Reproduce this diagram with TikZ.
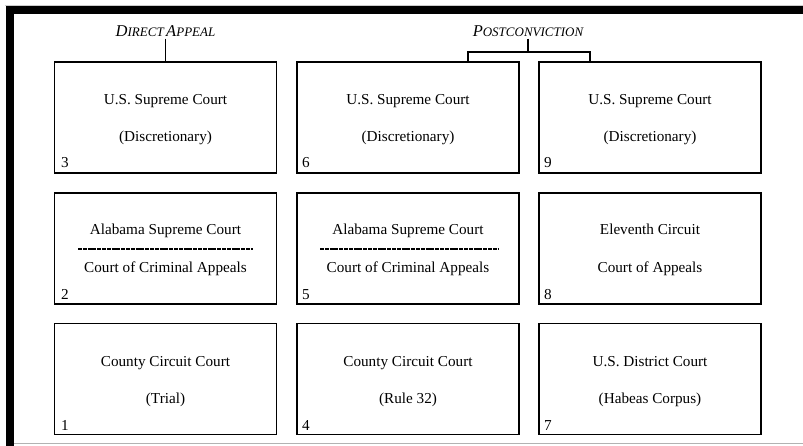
\documentclass[tikz,border=0pt]{standalone}
\usepackage{fontspec}
\setmainfont{Liberation Serif}
\newcommand\mysc[2]{{\fontsize{16.5}{18}\selectfont #1}{\fontsize{13}{18}\selectfont #2}}
\begin{document}
\begin{tikzpicture}[x=1pt,y=-1pt,
  court/.style={draw, line width=1.4pt, minimum width=222pt, minimum height=111pt, inner sep=0pt},
  lbl/.style={font=\fontsize{15.2}{18}\selectfont, inner sep=0pt, anchor=base},
  num/.style={font=\fontsize{15.2}{18}\selectfont, inner sep=0pt, anchor=base west},
  head/.style={font=\itshape, inner sep=1.5pt},
  ln/.style={line width=1.4pt},
  sep/.style={line width=1.1pt, dash pattern=on 4pt off 0.8pt}]
\useasboundingbox (0,0) rectangle (803,446);
% frame
\draw[gray!40, line width=0.6pt] (5,5) -- (803,5);
\fill[black] (6,6) rectangle (803,14);
\fill[black] (6,6) rectangle (14,446);
\draw[gray!60, line width=0.8pt] (14,443.5) -- (803,443.5);
% boxes
\node[court] (b3) at (165.5,117.5) {};
\node[court] (b6) at (408,117.5) {};
\node[court] (b9) at (650,117.5) {};
\node[court] (b2) at (165.5,248.5) {};
\node[court] (b5) at (408,248.5) {};
\node[court] (b8) at (650,248.5) {};
\node[court] (b1) at (165.5,379) {};
\node[court] (b4) at (408,379) {};
\node[court] (b7) at (650,379) {};
% row 1 texts
\node[lbl] (t3a) at (165.5,105) {U.S. Supreme Court};
\node[lbl] (t3b) at (165.5,142) {(Discretionary)};
\node[lbl] (t6a) at (408,105) {U.S. Supreme Court};
\node[lbl] (t6b) at (408,142) {(Discretionary)};
\node[lbl] (t9a) at (650,105) {U.S. Supreme Court};
\node[lbl] (t9b) at (650,142) {(Discretionary)};
% row 2 texts
\node[lbl] (t2a) at (165.5,235) {Alabama Supreme Court};
\node[lbl] (t2b) at (165.5,273) {Court of Criminal Appeals};
\node[lbl] (t5a) at (408,235) {Alabama Supreme Court};
\node[lbl] (t5b) at (408,273) {Court of Criminal Appeals};
\node[lbl] (t8a) at (650,235) {Eleventh Circuit};
\node[lbl] (t8b) at (650,273) {Court of Appeals};
\draw[sep] (78,249) -- (253,249);
\draw[sep] (320,249) -- (498,249);
% row 3 texts
\node[lbl] (t1a) at (165.5,366) {County Circuit Court};
\node[lbl] (t1b) at (165.5,403) {(Trial)};
\node[lbl] (t4a) at (408,366) {County Circuit Court};
\node[lbl] (t4b) at (408,403) {(Rule 32)};
\node[lbl] (t7a) at (650,366) {U.S. District Court};
\node[lbl] (t7b) at (650,403) {(Habeas Corpus)};
% numbers
\node[num] (n3) at (61,168) {3};
\node[num] (n6) at (302,168) {6};
\node[num] (n9) at (544,168) {9};
\node[num] (n2) at (61,299) {2};
\node[num] (n5) at (302,299) {5};
\node[num] (n8) at (544,299) {8};
\node[num] (n1) at (61,430) {1};
\node[num] (n4) at (302,430) {4};
\node[num] (n7) at (544,430) {7};
% headings
\node[head] (da) at (165.5,31.5) {\mysc{D}{IRECT} \mysc{A}{PPEAL}};
\node[head] (pc) at (528,31.5) {\mysc{P}{OSTCONVICTION}};
\draw[ln] (da.south) -- (b3.north);
\coordinate (brl) at (468,52);
\coordinate (brr) at (590,52);
\draw[ln] (pc.south) -- (pc.south |- brl);
\draw[ln] (b6.north -| brl) -- (brl) -- (brr) -- (b9.north -| brr);
\end{tikzpicture}
\end{document}
